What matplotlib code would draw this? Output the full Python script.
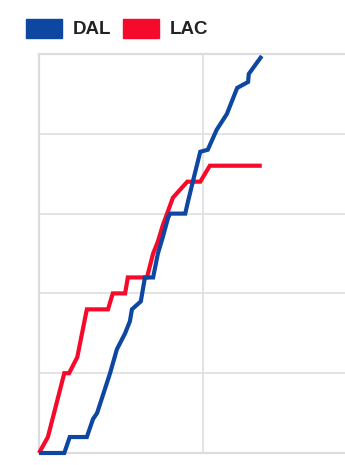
#!/usr/bin/env python3
"""Running score chart, DAL vs LAC."""

import matplotlib.pyplot as plt
from matplotlib.patches import Rectangle

# game clock (minutes) and cumulative points
dal_minutes = [0, 3.7, 4.5, 7.0, 7.9, 8.5, 10.4, 11.4, 12.6, 13.3, 13.6, 14.9, 15.2, 15.5,
               16.7, 17.4, 18.1, 18.9, 19.2, 21.4, 21.8, 22.8, 23.6, 24.7, 26.0, 27.5,
               29.0, 30.6, 30.7, 32.6]
dal_points = [0, 0, 4, 4, 8.5, 10, 20, 26, 30, 33, 36, 38, 41, 44,
              44, 50, 54, 59, 60, 60, 63, 70, 75.5, 76, 81, 85,
              91.5, 93, 95, 99.5]

lac_minutes = [0, 1.3, 3.7, 4.4, 5.6, 7.0, 10.1, 10.8, 12.6, 13.0, 15.8, 16.7, 17.4,
               18.1, 19.6, 21.7, 23.6, 25.0, 32.6]
lac_points = [0, 4, 20, 20, 24, 36, 36, 40, 40, 44, 44, 50, 53,
              57, 64, 68, 68, 72, 72]

teams = ["DAL", "LAC"]
colors = ["#0e47a1", "#f50a2c"]

x_ticks = [0, 24, 48]
y_ticks = [0, 20, 40, 60, 80, 100]

GRID = "#e3e3e3"


def main() -> None:
    fig = plt.figure(figsize=(3.45, 4.65), dpi=100)
    # axes run past the right edge of the picture, as in the reference crop
    ax = fig.add_axes([39 / 345, 12 / 465, 1 - 39 / 345, 399 / 465])

    series = [(dal_minutes, dal_points), (lac_minutes, lac_points)]
    # LAC drawn first so DAL sits on top
    for (xs, ys), color, z in zip(series[::-1], colors[::-1], [3, 4]):
        ax.plot(xs, ys, color=color, lw=3.0, solid_joinstyle="miter",
                solid_capstyle="butt", zorder=z, clip_on=False)

    ax.set_xticks(x_ticks)
    ax.set_yticks(y_ticks)
    ax.set_xlim(0, (345 - 39) / (164 / 24))
    ax.set_ylim(0, 100)
    ax.tick_params(length=0, labelbottom=False, labelleft=False)
    ax.grid(True, color=GRID, lw=1.4)
    ax.set_axisbelow(True)
    for side in ["left", "top", "bottom"]:
        ax.spines[side].set_color("#dcdcdc")
        ax.spines[side].set_linewidth(1.6)
    ax.spines["right"].set_visible(False)

    # legend at the top left
    x = 26
    for team, color in zip(teams, colors):
        fig.patches.append(Rectangle((x / 345, 1 - 38 / 465), 36 / 345, 19 / 465,
                                     transform=fig.transFigure, color=color))
        fig.text((x + 47) / 345, 1 - 29 / 465, team, fontsize=13.5,
                 fontweight="bold", color="#222222", va="center",
                 family="Liberation Sans")
        x += 97

    fig.savefig("out.png", dpi=100)


if __name__ == "__main__":
    main()
